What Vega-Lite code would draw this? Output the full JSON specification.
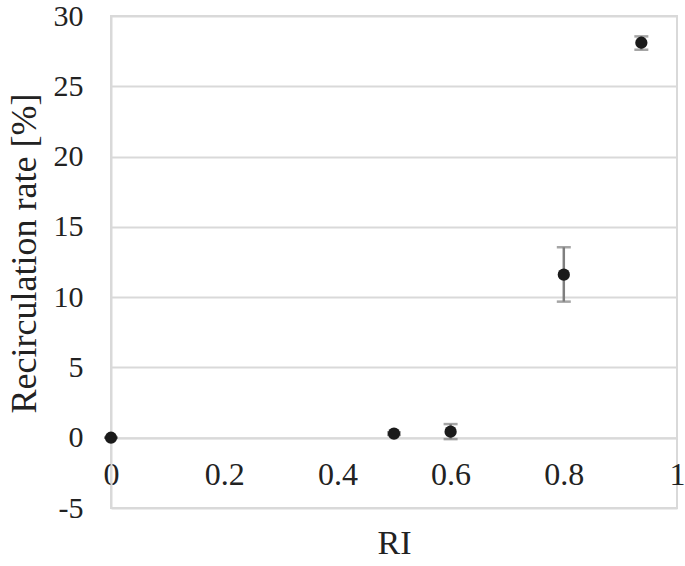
{
  "$schema": "https://vega.github.io/schema/vega-lite/v6.json",
  "autosize": {"type": "none"},
  "padding": {"left": 111, "top": 16, "right": 8, "bottom": 58},
  "width": 566,
  "height": 492,
  "background": "white",
  "config": {
    "view": {"stroke": "#d9d9d9", "strokeWidth": 2},
    "font": "Times New Roman"
  },
  "data": {
    "values": [
      {"RI": 0, "rate": 0, "lo": 0, "hi": 0},
      {"RI": 0.5, "rate": 0.29, "lo": 0.2, "hi": 0.38},
      {"RI": 0.6, "rate": 0.43, "lo": -0.1, "hi": 0.97},
      {"RI": 0.8, "rate": 11.6, "lo": 9.68, "hi": 13.55},
      {"RI": 0.937, "rate": 28.1, "lo": 27.6, "hi": 28.55}
    ]
  },
  "encoding": {
    "x": {
      "field": "RI",
      "type": "quantitative",
      "scale": {"domain": [0, 1], "nice": false, "zero": false},
      "axis": {
        "title": "RI",
        "values": [0, 0.2, 0.4, 0.6, 0.8, 1],
        "labelExpr": "'' + datum.value",
        "offset": -70.3,
        "grid": false,
        "ticks": false,
        "domainColor": "#d9d9d9",
        "domainWidth": 2,
        "labelFont": "Times New Roman",
        "labelFontSize": 32,
        "labelColor": "#222222",
        "labelPadding": 22,
        "labelFlush": false,
        "titleFont": "Times New Roman",
        "titleFontSize": 34,
        "titleFontWeight": "normal",
        "titleColor": "#222222",
        "titleBaseline": "middle",
        "titleY": 106
      }
    }
  },
  "layer": [
    {
      "mark": {"type": "rule", "color": "#7f7f7f", "strokeWidth": 2.5},
      "encoding": {
        "y": {
          "field": "lo",
          "type": "quantitative",
          "scale": {"domain": [-5, 30], "nice": false},
          "axis": {
            "title": "Recirculation rate [%]",
            "values": [-5, 0, 5, 10, 15, 20, 25, 30],
            "labelExpr": "'' + datum.value",
            "grid": true,
            "gridColor": "#d9d9d9",
            "gridWidth": 2,
            "ticks": false,
            "domainColor": "#d9d9d9",
            "domainWidth": 2,
            "labelFont": "Times New Roman",
            "labelFontSize": 30,
            "labelColor": "#222222",
            "labelPadding": 28,
            "titleFont": "Times New Roman",
            "titleFontSize": 36,
            "titleFontWeight": "normal",
            "titleColor": "#222222",
            "titleBaseline": "middle",
            "titleX": -87,
            "titleY": 237
          }
        },
        "y2": {"field": "hi"}
      }
    },
    {
      "mark": {"type": "tick", "color": "#7f7f7f", "orient": "horizontal", "size": 14, "thickness": 2.5},
      "encoding": {"y": {"field": "lo", "type": "quantitative"}}
    },
    {
      "mark": {"type": "tick", "color": "#7f7f7f", "orient": "horizontal", "size": 14, "thickness": 2.5},
      "encoding": {"y": {"field": "hi", "type": "quantitative"}}
    },
    {
      "mark": {"type": "point", "filled": true, "color": "#1a1a1a", "opacity": 1, "size": 150},
      "encoding": {"y": {"field": "rate", "type": "quantitative"}}
    }
  ]
}
